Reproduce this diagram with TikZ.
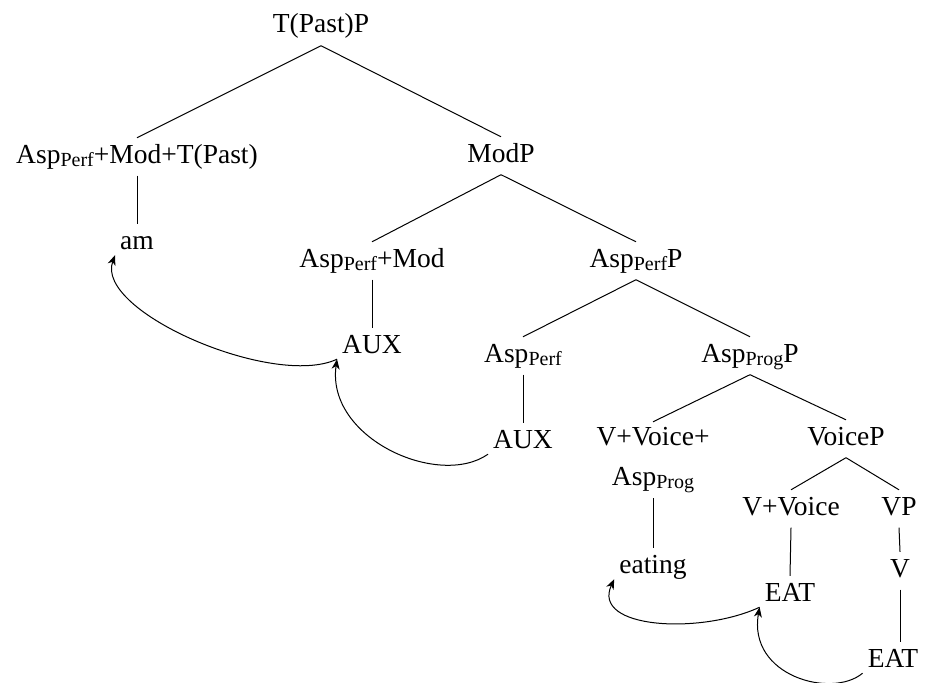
\documentclass[tikz,border=0pt]{standalone}
\usepackage{fontspec}
\setmainfont{Liberation Serif}
\usetikzlibrary{arrows.meta}
% lowered, smaller subscript for category labels
\newcommand\lsub[1]{\raisebox{-3.5pt}{\fontsize{20}{20}\selectfont #1}}
\begin{document}
\begin{tikzpicture}[x=1pt,y=1pt,
  lbl/.style={anchor=base,inner sep=5pt,text height=20pt,text depth=7.5pt,
    font=\fontsize{27.5}{33}\selectfont},
  lbltwo/.style={anchor=north,inner sep=5pt,align=center,
    font=\fontsize{27.5}{40}\selectfont},
  branch/.style={line width=1pt},
  move/.style={line width=1pt,-{Stealth[length=10pt,width=8pt,inset=3pt]}}]
\useasboundingbox (0,0) rectangle (925,-682);

% tree nodes (base points)
\node[lbl] (tp)     at (321,-33)  {T(Past)P};
\node[lbl] (amt)    at (137,-163) {Asp\lsub{Perf}+Mod+T(Past)};
\node[lbl] (am)     at (137,-249) {am};
\node[lbl] (modp)   at (501,-162) {ModP};
\node[lbl] (apm)    at (372,-267) {Asp\lsub{Perf}+Mod};
\node[lbl] (auxa)   at (372,-353) {AUX};
\node[lbl] (aspp)   at (636,-267) {Asp\lsub{Perf}P};
\node[lbl] (ap)     at (523,-362) {Asp\lsub{Perf}};
\node[lbl] (auxb)   at (523,-448) {AUX};
\node[lbl] (aprogp) at (750,-362) {Asp\lsub{Prog}P};
\node[lbltwo] (vva) at (653,-421.8) {V+Voice+\\Asp\lsub{Prog}};
\node[lbl] (eating) at (653,-573) {eating};
\node[lbl] (voicep) at (846,-445) {VoiceP};
\node[lbl] (vv)     at (791,-515) {V+Voice};
\node[lbl] (eata)   at (790,-601) {EAT};
\node[lbl] (vp)     at (899,-515) {VP};
\node[lbl] (v)      at (900,-577) {V};
\node[lbl] (eatb)   at (893,-667) {EAT};

% branches
\draw[branch] (tp.south) -- (amt.north);
\draw[branch] (tp.south) -- (modp.north);
\draw[branch] (amt.south) -- (am.north);
\draw[branch] (modp.south) -- (apm.north);
\draw[branch] (modp.south) -- (aspp.north);
\draw[branch] (apm.south) -- (auxa.north);
\draw[branch] (aspp.south) -- (ap.north);
\draw[branch] (aspp.south) -- (aprogp.north);
\draw[branch] (ap.south) -- (auxb.north);
\draw[branch] (aprogp.south) -- (vva.north);
\draw[branch] (aprogp.south) -- (voicep.north);
\draw[branch] (vva.south) -- (eating.north);
\draw[branch] (voicep.south) -- (vv.north);
\draw[branch] (voicep.south) -- (vp.north);
\draw[branch] (vv.south) -- (eata.north);
\draw[branch] (vp.south) -- (v.north);
\draw[branch] (v.south) -- (v.south |- eatb.north);

% head movement arrows
\draw[move] ([yshift=6.5pt]auxa.south west)
  to[out=205,in=250,out distance=70pt,in distance=60pt] ([yshift=6.5pt]am.south west);
\draw[move] ([yshift=6.5pt]auxb.south west)
  to[out=215,in=262,out distance=60pt,in distance=80pt] ([yshift=6.5pt]auxa.south west);
\draw[move] ([yshift=6.5pt]eata.south west)
  to[out=205,in=245,out distance=65pt,in distance=55pt] ([yshift=6.5pt]eating.south west);
\draw[move] ([yshift=6.5pt]eatb.south west)
  to[out=220,in=260,out distance=40pt,in distance=70pt] ([yshift=6.5pt]eata.south west);
\end{tikzpicture}
\end{document}
